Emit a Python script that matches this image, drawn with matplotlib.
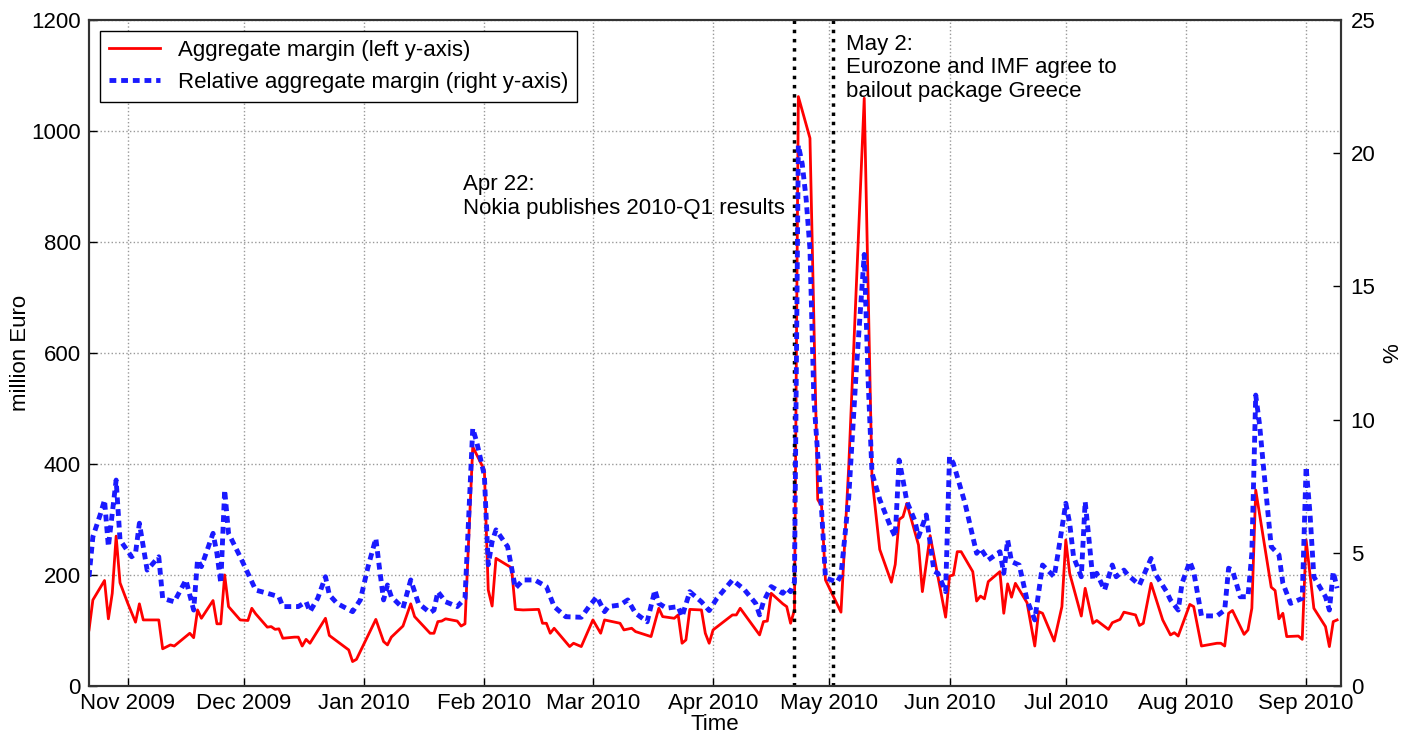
import matplotlib
matplotlib.use("Agg")
import matplotlib.pyplot as plt
import matplotlib.dates as mdates
import pandas as pd

# ==========================================
# DATA
# ==========================================

margin_dates = [
    "2009-10-22", "2009-10-23", "2009-10-26", "2009-10-27", "2009-10-28", "2009-10-29", "2009-10-30",
    "2009-11-01", "2009-11-03", "2009-11-04", "2009-11-05", "2009-11-09", "2009-11-10", "2009-11-12",
    "2009-11-13", "2009-11-17", "2009-11-18", "2009-11-19", "2009-11-20", "2009-11-23", "2009-11-24",
    "2009-11-25", "2009-11-26", "2009-11-27", "2009-11-30", "2009-12-02", "2009-12-03", "2009-12-04",
    "2009-12-07", "2009-12-08", "2009-12-09", "2009-12-10", "2009-12-11", "2009-12-14", "2009-12-15",
    "2009-12-16", "2009-12-17", "2009-12-18", "2009-12-22", "2009-12-23", "2009-12-28", "2009-12-29",
    "2009-12-30", "2010-01-04", "2010-01-06", "2010-01-07", "2010-01-08", "2010-01-11", "2010-01-13",
    "2010-01-14", "2010-01-18", "2010-01-19", "2010-01-20", "2010-01-21", "2010-01-22", "2010-01-25",
    "2010-01-26", "2010-01-27", "2010-01-29", "2010-02-01", "2010-02-02", "2010-02-03", "2010-02-04",
    "2010-02-08", "2010-02-09", "2010-02-11", "2010-02-15", "2010-02-16", "2010-02-17", "2010-02-18",
    "2010-02-19", "2010-02-23", "2010-02-24", "2010-02-26", "2010-03-01", "2010-03-03", "2010-03-04",
    "2010-03-08", "2010-03-09", "2010-03-11", "2010-03-12", "2010-03-16", "2010-03-18", "2010-03-19",
    "2010-03-22", "2010-03-23", "2010-03-24", "2010-03-25", "2010-03-26", "2010-03-29", "2010-03-30",
    "2010-03-31", "2010-04-01", "2010-04-06", "2010-04-07", "2010-04-08", "2010-04-13", "2010-04-14",
    "2010-04-15", "2010-04-16", "2010-04-19", "2010-04-20", "2010-04-21", "2010-04-22", "2010-04-23",
    "2010-04-26", "2010-04-28", "2010-04-29", "2010-04-30", "2010-05-04", "2010-05-06", "2010-05-10",
    "2010-05-12", "2010-05-14", "2010-05-17", "2010-05-18", "2010-05-19", "2010-05-20", "2010-05-21",
    "2010-05-24", "2010-05-25", "2010-05-27", "2010-05-31", "2010-06-01", "2010-06-02", "2010-06-03",
    "2010-06-04", "2010-06-07", "2010-06-08", "2010-06-09", "2010-06-10", "2010-06-11", "2010-06-14",
    "2010-06-15", "2010-06-16", "2010-06-17", "2010-06-18", "2010-06-21", "2010-06-23", "2010-06-24",
    "2010-06-25", "2010-06-28", "2010-06-30", "2010-07-01", "2010-07-02", "2010-07-05", "2010-07-06",
    "2010-07-08", "2010-07-09", "2010-07-12", "2010-07-13", "2010-07-15", "2010-07-16", "2010-07-19",
    "2010-07-20", "2010-07-21", "2010-07-23", "2010-07-26", "2010-07-28", "2010-07-29", "2010-07-30",
    "2010-08-02", "2010-08-03", "2010-08-05", "2010-08-09", "2010-08-10", "2010-08-11", "2010-08-12",
    "2010-08-13", "2010-08-16", "2010-08-17", "2010-08-18", "2010-08-19", "2010-08-23", "2010-08-24",
    "2010-08-25", "2010-08-26", "2010-08-27", "2010-08-30", "2010-08-31", "2010-09-01", "2010-09-03",
    "2010-09-06", "2010-09-07", "2010-09-08", "2010-09-09",
]

margin_values = [
    101, 155, 190, 121, 167, 270, 186,
    149, 115, 148, 119, 119, 67, 74,
    72, 95, 87, 137, 122, 154, 112,
    112, 200, 143, 119, 118, 140, 130,
    106, 107, 102, 103, 86, 88, 88,
    72, 84, 77, 122, 91, 65, 44,
    48, 120, 80, 74, 88, 108, 148,
    125, 95, 95, 116, 117, 121, 117,
    108, 112, 431, 389, 173, 144, 230,
    213, 138, 137, 138, 113, 113, 95,
    104, 71, 77, 71, 119, 95, 119,
    113, 101, 104, 98, 89, 140, 125,
    122, 128, 77, 83, 138, 137, 95,
    77, 101, 128, 128, 140, 92, 116,
    117, 167, 148, 143, 113, 137, 1062,
    987, 336, 324, 191, 133, 395, 1059,
    375, 246, 187, 219, 300, 305, 329,
    254, 170, 271, 124, 198, 200, 242,
    242, 206, 153, 162, 157, 188, 206,
    131, 184, 160, 185, 150, 72, 134,
    131, 81, 143, 263, 203, 126, 176,
    113, 118, 102, 114, 120, 133, 128,
    109, 113, 185, 119, 92, 96, 90,
    147, 143, 72, 77, 77, 72, 131,
    136, 93, 101, 140, 353, 178, 172,
    121, 131, 89, 90, 84, 263, 140,
    107, 71, 116, 119,
]

rel_dates = [
    "2009-10-22", "2009-10-23", "2009-10-25", "2009-10-26", "2009-10-27", "2009-10-28", "2009-10-29",
    "2009-10-30", "2009-11-02", "2009-11-03", "2009-11-04", "2009-11-06", "2009-11-09", "2009-11-10",
    "2009-11-13", "2009-11-16", "2009-11-18", "2009-11-19", "2009-11-20", "2009-11-23", "2009-11-24",
    "2009-11-25", "2009-11-26", "2009-11-27", "2009-11-30", "2009-12-02", "2009-12-04", "2009-12-07",
    "2009-12-10", "2009-12-11", "2009-12-15", "2009-12-17", "2009-12-18", "2009-12-20", "2009-12-22",
    "2009-12-23", "2009-12-25", "2009-12-29", "2009-12-31", "2010-01-02", "2010-01-04", "2010-01-05",
    "2010-01-06", "2010-01-07", "2010-01-08", "2010-01-11", "2010-01-13", "2010-01-14", "2010-01-15",
    "2010-01-18", "2010-01-19", "2010-01-20", "2010-01-22", "2010-01-25", "2010-01-27", "2010-01-29",
    "2010-01-30", "2010-02-01", "2010-02-02", "2010-02-03", "2010-02-04", "2010-02-07", "2010-02-09",
    "2010-02-11", "2010-02-14", "2010-02-17", "2010-02-19", "2010-02-22", "2010-02-26", "2010-02-28",
    "2010-03-02", "2010-03-04", "2010-03-05", "2010-03-08", "2010-03-10", "2010-03-12", "2010-03-15",
    "2010-03-17", "2010-03-18", "2010-03-20", "2010-03-23", "2010-03-24", "2010-03-26", "2010-03-29",
    "2010-03-31", "2010-04-02", "2010-04-06", "2010-04-09", "2010-04-12", "2010-04-13", "2010-04-14",
    "2010-04-16", "2010-04-19", "2010-04-20", "2010-04-21", "2010-04-22", "2010-04-23", "2010-04-24",
    "2010-04-25", "2010-04-26", "2010-04-27", "2010-04-29", "2010-04-30", "2010-05-03", "2010-05-04",
    "2010-05-06", "2010-05-08", "2010-05-10", "2010-05-11", "2010-05-12", "2010-05-14", "2010-05-17",
    "2010-05-18", "2010-05-19", "2010-05-20", "2010-05-21", "2010-05-23", "2010-05-24", "2010-05-26",
    "2010-05-28", "2010-05-29", "2010-05-31", "2010-06-01", "2010-06-02", "2010-06-05", "2010-06-08",
    "2010-06-09", "2010-06-11", "2010-06-14", "2010-06-15", "2010-06-16", "2010-06-17", "2010-06-19",
    "2010-06-21", "2010-06-23", "2010-06-25", "2010-06-28", "2010-06-29", "2010-07-01", "2010-07-02",
    "2010-07-03", "2010-07-05", "2010-07-06", "2010-07-07", "2010-07-08", "2010-07-09", "2010-07-11",
    "2010-07-13", "2010-07-14", "2010-07-16", "2010-07-17", "2010-07-20", "2010-07-23", "2010-07-24",
    "2010-07-27", "2010-07-28", "2010-07-30", "2010-07-31", "2010-08-02", "2010-08-03", "2010-08-05",
    "2010-08-09", "2010-08-11", "2010-08-12", "2010-08-13", "2010-08-15", "2010-08-17", "2010-08-18",
    "2010-08-19", "2010-08-20", "2010-08-21", "2010-08-23", "2010-08-25", "2010-08-26", "2010-08-28",
    "2010-08-31", "2010-09-01", "2010-09-02", "2010-09-03", "2010-09-06", "2010-09-07", "2010-09-08",
    "2010-09-09",
]

rel_values = [
    4.10, 5.60, 6.48, 6.98, 5.23, 6.48, 7.73,
    5.48, 4.85, 4.98, 6.11, 4.35, 4.85, 3.29,
    3.16, 3.98, 2.85, 4.73, 4.48, 5.73, 4.98,
    3.86, 7.36, 5.73, 4.85, 4.23, 3.60, 3.48,
    3.35, 2.98, 2.98, 3.16, 2.79, 3.29, 4.10,
    3.42, 3.10, 2.79, 3.23, 4.48, 5.54, 4.35,
    3.23, 3.79, 3.35, 2.92, 3.98, 3.54, 3.10,
    2.75, 2.85, 3.54, 3.16, 2.98, 3.29, 9.67,
    9.17, 7.90, 4.55, 5.42, 5.86, 5.23, 3.67,
    3.98, 3.98, 3.73, 2.98, 2.60, 2.58, 2.98,
    3.35, 2.79, 2.98, 3.04, 3.23, 2.73, 2.41,
    3.60, 3.10, 2.92, 2.98, 2.60, 3.54, 3.16,
    2.83, 3.29, 3.98, 3.63, 3.10, 2.67, 3.16,
    3.73, 3.48, 3.67, 3.54, 3.90, 20.3, 19.6,
    18.3, 16.4, 10.8, 6.59, 4.06, 3.90, 4.15,
    7.08, 11.96, 16.2, 11.5, 8.0, 7.0, 5.9,
    5.6, 8.48, 7.73, 6.92, 6.23, 5.60, 6.42,
    4.31, 4.23, 3.54, 8.61, 8.36, 6.86, 4.98,
    5.17, 4.73, 5.04, 4.23, 5.48, 4.67, 4.54,
    3.23, 2.48, 4.54, 4.10, 4.98, 6.86, 6.11,
    4.85, 4.10, 6.92, 5.48, 3.98, 4.23, 3.60,
    4.54, 4.10, 4.35, 4.17, 3.79, 4.79, 4.23,
    3.54, 3.23, 2.85, 3.86, 4.67, 4.29, 2.63,
    2.63, 2.85, 4.42, 4.35, 3.35, 3.35, 4.98,
    10.92, 9.80, 8.23, 5.23, 4.92, 3.86, 3.10,
    3.29, 8.23, 6.48, 4.10, 3.35, 2.85, 4.29,
    3.67,
]

event_dates = ["2010-04-22", "2010-05-02"]
event_labels = [
    "Apr 22:\nNokia publishes 2010-Q1 results",
    "May 2:\nEurozone and IMF agree to\nbailout package Greece",
]

# ==========================================
# FIGURE
# ==========================================

plt.rcParams["font.family"] = ["Liberation Sans", "DejaVu Sans"]
plt.rcParams["font.size"] = 16

fig = plt.figure(figsize=(14.15, 7.4), dpi=100)
ax = fig.add_axes([0.0629, 0.073, 0.8848, 0.900])
ax2 = ax.twinx()

line1, = ax.plot(pd.to_datetime(margin_dates), margin_values,
                 color="#ff0000", lw=2.0,
                 label="Aggregate margin (left y-axis)")

line2, = ax2.plot(pd.to_datetime(rel_dates), rel_values,
                  color="#1a1aff", lw=3.5, ls=(0, (1.4, 1.0)),
                  label="Relative aggregate margin (right y-axis)")

# event markers
for d in event_dates:
    ax.axvline(pd.Timestamp(d), color="black", ls=":", lw=2.5, zorder=3)

ax.annotate(event_labels[0], xy=(pd.Timestamp(event_dates[0]), 922),
            xytext=(-7, 0), textcoords="offset points",
            ha="right", va="top", multialignment="left", linespacing=1.15)
ax.annotate(event_labels[1], xy=(pd.Timestamp(event_dates[1]), 1175),
            xytext=(9, 0), textcoords="offset points",
            ha="left", va="top", multialignment="left", linespacing=1.15)

# ==========================================
# AXES
# ==========================================

ax.set_xlim(pd.Timestamp("2009-10-22"), pd.Timestamp("2010-09-10"))
ax.set_ylim(0, 1200)
ax2.set_ylim(0, 25)
ax.set_yticks(range(0, 1201, 200))
ax2.set_yticks(range(0, 26, 5))

ax.xaxis.set_major_locator(mdates.MonthLocator())
ax.xaxis.set_major_formatter(mdates.DateFormatter("%b %Y"))

ax.grid(True, ls=":", color="#999999", lw=1.0)

ax.tick_params(direction="in", length=6, width=1, pad=6)
ax.tick_params(axis="x", pad=5)
ax2.tick_params(direction="in", length=6, width=1, pad=7)

for a in (ax, ax2):
    for s in a.spines.values():
        s.set_linewidth(1.5)
        s.set_color("#333333")

ax.set_xlabel("Time", labelpad=0)
ax.set_ylabel("million Euro")
ax.yaxis.set_label_coords(-0.046, 0.5)
ax2.set_ylabel("%")
ax2.yaxis.set_label_coords(1.033, 0.5)

leg = ax2.legend([line1, line2], [line1.get_label(), line2.get_label()],
                 loc="upper left", fancybox=False, framealpha=1,
                 edgecolor="black", handlelength=2.3)
leg.get_frame().set_linewidth(1.0)

fig.savefig("out.png", dpi=100)
